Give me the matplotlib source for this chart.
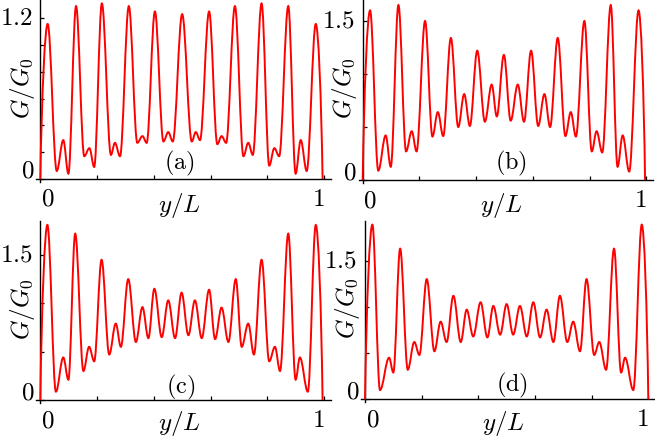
import matplotlib
matplotlib.use("Agg")
import matplotlib.pyplot as plt
from matplotlib.path import Path
from matplotlib.patches import PathPatch
from matplotlib.transforms import offset_copy

plt.rcParams['mathtext.fontset'] = 'cm'

W, H = 655, 438

# turning points of each curve: y/L and G/G0
a_pos = [0.0, 0.026, 0.058, 0.081, 0.099, 0.126, 0.155, 0.173, 0.190, 0.217, 0.249, 0.263, 0.281,
         0.312, 0.342, 0.360, 0.375, 0.404, 0.434, 0.451, 0.467, 0.500, 0.534, 0.548, 0.563,
         0.595, 0.624, 0.639, 0.655, 0.686, 0.716, 0.733, 0.749, 0.780, 0.807, 0.825, 0.842,
         0.874, 0.900, 0.918, 0.939, 0.971, 0.995]
a_val = [0.0, 1.157, 0.06, 0.29, 0.04, 1.29, 0.17, 0.23, 0.09, 1.31, 0.18, 0.27, 0.17,
         1.29, 0.27, 0.32, 0.27, 1.25, 0.28, 0.35, 0.28, 1.23, 0.28, 0.35, 0.29,
         1.25, 0.26, 0.32, 0.27, 1.29, 0.17, 0.27, 0.18, 1.31, 0.10, 0.23, 0.17,
         1.29, 0.04, 0.29, 0.06, 1.157, 0.0]

b_pos = [0.0, 0.026, 0.055, 0.081, 0.099, 0.126, 0.153, 0.173, 0.190, 0.220, 0.246, 0.265, 0.284,
         0.311, 0.337, 0.358, 0.378, 0.404, 0.431, 0.455, 0.473, 0.498, 0.522, 0.547, 0.569,
         0.594, 0.619, 0.641, 0.661, 0.688, 0.715, 0.734, 0.752, 0.782, 0.808, 0.825, 0.845,
         0.875, 0.899, 0.917, 0.940, 0.973, 0.996]
b_val = [0.0, 1.60, 0.088, 0.42, 0.125, 1.65, 0.27, 0.46, 0.27, 1.50, 0.41, 0.64, 0.415,
         1.34, 0.50, 0.81, 0.51, 1.22, 0.55, 0.90, 0.60, 1.18, 0.56, 0.90, 0.55,
         1.22, 0.51, 0.81, 0.50, 1.34, 0.415, 0.64, 0.41, 1.50, 0.27, 0.46, 0.26,
         1.65, 0.125, 0.42, 0.08, 1.60, 0.0]

c_pos = [0.0, 0.025, 0.055, 0.081, 0.099, 0.123, 0.152, 0.172, 0.190, 0.216, 0.243, 0.266, 0.284,
         0.310, 0.337, 0.360, 0.381, 0.402, 0.428, 0.451, 0.475, 0.498, 0.522, 0.545, 0.569,
         0.595, 0.616, 0.639, 0.663, 0.689, 0.710, 0.733, 0.753, 0.780, 0.807, 0.827, 0.845,
         0.874, 0.900, 0.915, 0.943, 0.971, 0.995]
c_val = [0.0, 1.81, 0.086, 0.44, 0.21, 1.72, 0.30, 0.55, 0.40, 1.45, 0.47, 0.79, 0.55,
         1.25, 0.60, 0.96, 0.64, 1.15, 0.65, 1.03, 0.64, 1.11, 0.67, 1.03, 0.64,
         1.14, 0.63, 0.955, 0.60, 1.25, 0.55, 0.79, 0.47, 1.45, 0.40, 0.55, 0.30,
         1.72, 0.21, 0.44, 0.086, 1.81, 0.0]

d_pos = [0.0, 0.026, 0.053, 0.085, 0.100, 0.124, 0.151, 0.174, 0.192, 0.218, 0.245, 0.267, 0.288,
         0.312, 0.338, 0.359, 0.382, 0.408, 0.432, 0.453, 0.477, 0.500, 0.523, 0.547, 0.571,
         0.594, 0.618, 0.641, 0.665, 0.688, 0.714, 0.735, 0.759, 0.782, 0.809, 0.827, 0.851,
         0.879, 0.904, 0.918, 0.947, 0.977, 1.0]
d_val = [0.0, 1.89, 0.10, 0.45, 0.29, 1.63, 0.32, 0.62, 0.48, 1.30, 0.52, 0.84, 0.62,
         1.12, 0.62, 0.97, 0.68, 1.05, 0.67, 1.01, 0.70, 1.03, 0.70, 1.01, 0.68,
         1.05, 0.67, 0.97, 0.62, 1.12, 0.62, 0.84, 0.52, 1.30, 0.48, 0.62, 0.32,
         1.63, 0.29, 0.45, 0.10, 1.89, 0.0]

a_yticks = [0, 0.2, 0.4, 0.6, 0.8, 1.0, 1.2]
b_yticks = [0, 0.5, 1.0, 1.5]
x_ticks = [0.2, 0.4, 0.6, 0.8, 1.0]
top_labels = ["1.2", "1.5", "1.5", "1.5"]
letters = ["(a)", "(b)", "(c)", "(d)"]


def smooth_path(xs, ys, k=0.36):
    # cubic pieces with flat tangents at every turning point
    verts = [(xs[0], ys[0])]
    codes = [Path.MOVETO]
    n = len(xs)
    for i in range(n - 1):
        x0, y0, x1, y1 = xs[i], ys[i], xs[i + 1], ys[i + 1]
        dx = x1 - x0
        if i == 0:
            c1 = (x0 + 0.2 * dx, y0 + 0.55 * (y1 - y0))
        else:
            c1 = (x0 + k * dx, y0)
        if i == n - 2:
            c2 = (x1 - 0.2 * dx, y1 + 0.55 * (y0 - y1))
        else:
            c2 = (x1 - k * dx, y1)
        verts += [c1, c2, (x1, y1)]
        codes += [Path.CURVE4] * 3
    return Path(verts, codes)


fig = plt.figure(figsize=(W / 100, H / 100), dpi=100)

# pixel geometry: x of y/L=0, x of y/L=1, y of G=0, px per unit G, top of axis
panels = [
    (40.3, 324.0, 179.0, 134.0, 0.0, a_pos, a_val, a_yticks, (0.49, 16), -26),
    (362.7, 646.2, 180.0, 106.0, 0.0, b_pos, b_val, b_yticks, (0.523, 17), -26),
    (40.3, 324.0, 400.0, 96.7, 221.0, c_pos, c_val, b_yticks, (0.495, 13), -24),
    (365.0, 648.3, 399.3, 92.4, 221.0, d_pos, d_val, b_yticks, (0.518, 14), -24),
]

for i, (x0, x1, y0, ppu, top, xs, ys, yt, let, lab_dy) in enumerate(panels):
    sc = x1 - x0
    lo, hi = -0.014, 1.023
    left = x0 + lo * sc
    right = x0 + hi * sc
    bottom = y0 + 3
    ax = fig.add_axes([left / W, 1 - bottom / H, (right - left) / W, (bottom - top) / H])
    ax.set_xlim(lo, hi)
    ax.set_ylim(-3 / ppu, (y0 - top) / ppu)
    ax.patch.set_visible(False)

    ax.add_patch(PathPatch(smooth_path(xs, ys), facecolor='none', edgecolor='#ff0000',
                           lw=1.4, clip_on=False, zorder=3))

    for s in ['top', 'right']:
        ax.spines[s].set_visible(False)
    for s in ['left', 'bottom']:
        ax.spines[s].set_position(('data', 0))
        ax.spines[s].set_linewidth(1.0)
    ax.set_xticks(x_ticks)
    ax.set_yticks(yt)
    ax.set_xticklabels([])
    ax.set_yticklabels([])
    ax.tick_params(direction='in', length=3, width=0.9, color='black')

    def at(dx, dy):
        return offset_copy(ax.transData, fig=fig, x=dx, y=dy, units='dots')

    fs = 18
    ax.text(0, yt[-1], '$' + top_labels[i] + '$', transform=at(-8, 0),
            ha='right', va='center', fontsize=fs)
    ax.text(0, 0, '$0$', transform=at(-6, 8), ha='right', va='center', fontsize=fs)
    ax.text(0, 0, '$0$', transform=at(7.5, -20), ha='center', va='center', fontsize=fs)
    ax.text(1, 0, '$1$', transform=at(-6, -20), ha='center', va='center', fontsize=fs)
    ax.text(0.49, 0, '$y/L$', transform=at(0, lab_dy), ha='center', va='center', fontsize=fs)
    ax.text(0, 0, '$G/G_0$', transform=at(-18, 0.51 * (y0 - top)),
            ha='center', va='center', rotation=90, fontsize=fs)
    ax.text(let[0], 0, r'$\mathrm{' + letters[i] + '}$', transform=at(0, let[1]),
            ha='center', va='center', fontsize=17.5)

fig.savefig('out.png', dpi=100)
